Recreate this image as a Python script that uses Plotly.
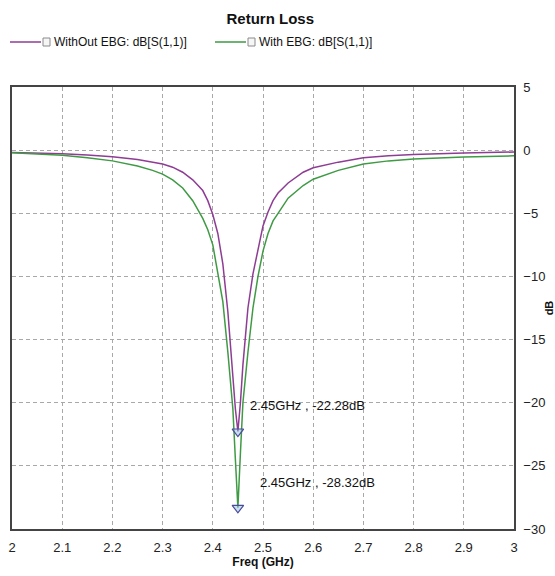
import plotly.graph_objects as go

freq = [2.0, 2.05, 2.1, 2.15, 2.2, 2.25, 2.28, 2.3, 2.32, 2.34, 2.36, 2.38, 2.39, 2.40,
        2.41, 2.42, 2.43, 2.44, 2.445, 2.45, 2.455, 2.46, 2.47, 2.48, 2.49, 2.50, 2.51,
        2.52, 2.53, 2.55, 2.58, 2.6, 2.65, 2.7, 2.75, 2.8, 2.9, 3.0]

without_ebg = [-0.18, -0.22, -0.28, -0.38, -0.52, -0.75, -0.95, -1.1, -1.35, -1.75, -2.35,
               -3.2, -4.0, -5.1, -6.6, -9.0, -12.8, -18.0, -20.5, -22.28, -20.0, -17.0,
               -12.5, -9.8, -7.8, -6.0, -4.9, -4.0, -3.4, -2.6, -1.75, -1.4, -0.95, -0.6,
               -0.45, -0.35, -0.22, -0.15]

with_ebg = [-0.2, -0.28, -0.4, -0.6, -0.85, -1.25, -1.6, -1.9, -2.35, -3.0, -4.0,
            -5.4, -6.3, -7.5, -9.6, -12.0, -16.0, -20.5, -24.5, -28.32, -24.0, -20.0,
            -16.0, -12.5, -10.0, -8.0, -6.6, -5.6, -5.0, -3.8, -2.8, -2.3, -1.6, -1.1,
            -0.85, -0.7, -0.55, -0.45]

series_names = ["WithOut EBG: dB[S(1,1)]", "With EBG: dB[S(1,1)]"]

marker_freq = [2.45, 2.45]
marker_db = [-22.28, -28.32]
marker_text = ["2.45GHz , -22.28dB", "2.45GHz , -28.32dB"]

x_ticks = [2, 2.1, 2.2, 2.3, 2.4, 2.5, 2.6, 2.7, 2.8, 2.9, 3]
x_tick_text = ["2", "2.1", "2.2", "2.3", "2.4", "2.5", "2.6", "2.7", "2.8", "2.9", "3"]
y_ticks = [5, 0, -5, -10, -15, -20, -25, -30]

FONT = "Liberation Sans Narrow, Arial Narrow, Liberation Sans, Arial, sans-serif"
PURPLE = "#8e3c94"
GREEN = "#3f9a44"
colors = [PURPLE, GREEN]

# plot area in pixels: x 12..514, y 87..529
L, R, T, B = 12, 514, 87, 529
W, H = R - L, B - T


def px(x):
    return (x - L) / W


def py(y):
    return (B - y) / H


fig = go.Figure()
fig.add_trace(go.Scatter(x=freq, y=without_ebg, mode="lines",
                         line=dict(color=PURPLE, width=1.5),
                         name=series_names[0], showlegend=False))
fig.add_trace(go.Scatter(x=freq, y=with_ebg, mode="lines",
                         line=dict(color=GREEN, width=1.5),
                         name=series_names[1], showlegend=False))
fig.add_trace(go.Scatter(x=marker_freq, y=marker_db, mode="markers",
                         marker=dict(symbol="triangle-down", size=10,
                                     color="rgba(150,190,230,0.5)",
                                     line=dict(color="#4a4a9a", width=1.2)),
                         showlegend=False, hoverinfo="skip"))

shifts = [(10, 26), (20, 25)]
for f, d, t, (dx, dy) in zip(marker_freq, marker_db, marker_text, shifts):
    fig.add_annotation(x=f, y=d, text=t, showarrow=False, xanchor="left",
                       yanchor="middle", xshift=dx, yshift=dy,
                       font=dict(family=FONT, size=13, color="#111"))

# custom legend (line sample, checkbox, label)
leg_y = 42
for x0, name, c in zip([10, 215], series_names, colors):
    fig.add_shape(type="line", xref="paper", yref="paper",
                  x0=px(x0), x1=px(x0 + 31), y0=py(leg_y), y1=py(leg_y),
                  line=dict(color=c, width=1.5))
    fig.add_shape(type="rect", xref="paper", yref="paper",
                  x0=px(x0 + 33), x1=px(x0 + 40), y0=py(leg_y + 4), y1=py(leg_y - 4),
                  line=dict(color="#8a8a8a", width=1), fillcolor="#f6f6f6")
    fig.add_annotation(xref="paper", yref="paper", x=px(x0 + 42), y=py(leg_y),
                       text=name, showarrow=False, xanchor="left", yanchor="middle",
                       font=dict(family=FONT, size=12, color="#111"))

fig.update_layout(
    width=555, height=576,
    margin=dict(l=L, r=555 - R, t=T, b=576 - B, autoexpand=False),
    paper_bgcolor="white", plot_bgcolor="white",
    title=dict(text="<b>Return Loss</b>", x=0.487, xanchor="center", y=0.968,
               yanchor="middle", font=dict(family=FONT, size=15, color="#111")),
    showlegend=False,
    font=dict(family=FONT, color="#111"),
)

fig.update_xaxes(range=[2, 3], tickvals=x_ticks, ticktext=x_tick_text,
                 showgrid=True, gridcolor="#a8a8a8", griddash="4px,3px", gridwidth=1,
                 showline=True, linecolor="#444", linewidth=1.5, mirror=True,
                 ticks="", tickfont=dict(family=FONT, size=13, color="#222"),
                 ticklabelstandoff=6, automargin=False,
                 title=dict(text="<b>Freq (GHz)</b>", standoff=2,
                            font=dict(family=FONT, size=12, color="#111")),
                 zeroline=False)
fig.update_yaxes(range=[-30, 5], tickvals=y_ticks, side="right",
                 showgrid=True, gridcolor="#a8a8a8", griddash="4px,3px", gridwidth=1,
                 showline=True, linecolor="#444", linewidth=1.5, mirror=True,
                 ticks="", tickfont=dict(family=FONT, size=13, color="#222"),
                 ticklabelstandoff=5, automargin=False,
                 title=dict(text="<b>dB</b>", standoff=8,
                            font=dict(family=FONT, size=11, color="#111")),
                 zeroline=False)

fig.write_html("out.html")
